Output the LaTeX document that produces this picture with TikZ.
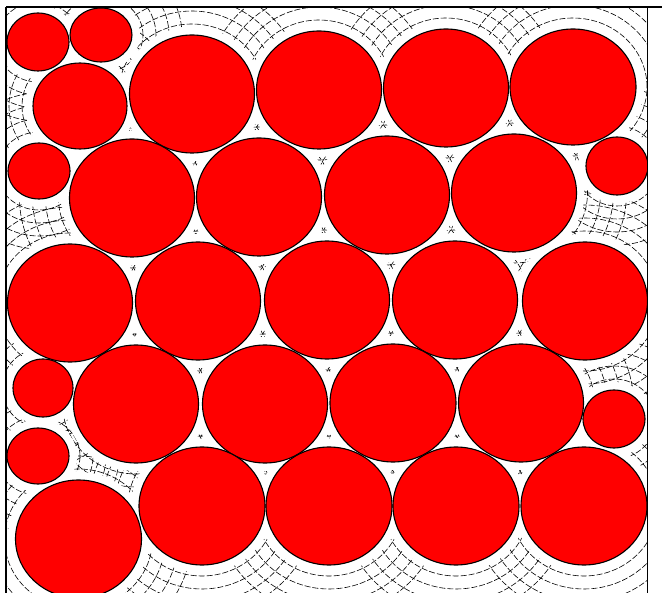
\documentclass[tikz,border=0pt]{standalone}
\begin{document}
\begin{tikzpicture}[x=1pt,y=-1pt,
  ring/.style={draw=black,line width=0.6pt,dash pattern=on 6pt off 2pt},
  halo/.style={fill=white},
  blob/.style={fill=red,draw=black,line width=1.1pt}]
\useasboundingbox (0,0) rectangle (662,593);
\fill[white] (0,0) rectangle (662,593);
\def\circlelist{38/42/31/29, 101/35/31/27, 80/106/47/43,
  192/94/62.5/59, 319/90/62.5/59, 446/88/62.5/59, 573/87/63/58,
  39/171/31/28, 132/198/62.5/59, 259/197/62.5/59, 387/195/62.5/59, 514/193/62.5/59, 617/166/31/29,
  70/303/62.5/59, 198/301/62.5/59, 327/300/62.5/59, 455/300/62.5/59, 585/301/62.5/59,
  43/388/30/29, 136/404/62.5/59, 265/404/62.5/59, 393/403/63/59, 521/403/62.5/59, 614/419/31/29,
  38/456/31/28, 78.5/539/63/59, 202/506/63/59, 329/506/63/59, 456/506/63/59, 584/506/63/59}
\begin{scope}
  \clip (6,8) rectangle (647,593);
  \foreach \cx/\cy/\rx/\ry in \circlelist {
    \foreach \d in {11,24,37,50} {
      \draw[ring] (\cx,\cy) ellipse [x radius=\rx pt+\d pt, y radius=\ry pt+\d pt];
    }
  }
  \foreach \cx/\cy/\rx/\ry in \circlelist {
    \fill[halo] (\cx,\cy) ellipse [x radius=\rx pt+8pt, y radius=\ry pt+8pt];
  }
  \foreach \cx/\cy/\rx/\ry in \circlelist {
    \draw[blob] (\cx,\cy) ellipse [x radius=\rx pt, y radius=\ry pt];
  }
\end{scope}
\coordinate (tl) at (6,7);
\coordinate (tr) at (662,7);
\coordinate (bl) at (6,593);
\coordinate (rt) at (647.5,7);
\coordinate (rb) at (647.5,593);
\draw[line width=2.5pt] (tl) -- (tr);
\draw[line width=2.5pt] (tl) -- (bl);
\draw[line width=1pt] (rt) -- (rb);
\end{tikzpicture}
\end{document}
